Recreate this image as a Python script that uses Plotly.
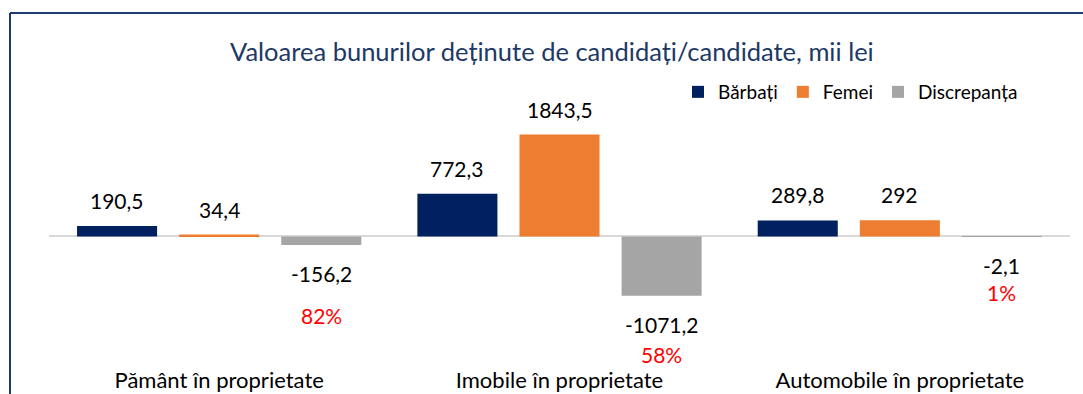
import plotly.graph_objects as go

# Asset categories and values (thousand lei)
categories = ["Pământ în proprietate", "Imobile în proprietate", "Automobile în proprietate"]
barbati = [190.5, 772.3, 289.8]
femei = [34.4, 1843.5, 292]
discrepanta = [-156.2, -1071.2, -2.1]

series_names = ["Bărbați", "Femei", "Discrepanța"]
series_colors = ["#002060", "#ED7D31", "#A5A5A5"]

W, H = 1083, 394
ML, MR, MT, MB = 49, 13, 100, 29
PW, PH = W - ML - MR, H - MT - MB
FONT = "Lato"


def fmt(v):
    s = f"{v:.1f}".replace(".", ",")
    return s[:-2] if s.endswith(",0") else s


def px_x(px):
    return (px - ML) / PW


def px_y(py):
    return (H - MB - py) / PH


fig = go.Figure()
all_series = [barbati, femei, discrepanta]
for name, color, vals in zip(series_names, series_colors, all_series):
    fig.add_trace(go.Bar(
        x=categories, y=vals, name=name,
        marker=dict(color=color, line=dict(width=0)),
        hoverinfo="skip",
    ))

# Value labels above / below each bar
n = len(all_series)
slot = (1 - 0.1) / n
annotations = []
for si, vals in enumerate(all_series):
    for ci, v in enumerate(vals):
        xoff = (si - (n - 1) / 2) * slot
        annotations.append(dict(
            x=ci + xoff, y=v, xref="x", yref="y",
            text=fmt(v), showarrow=False,
            yshift=25.5 if v >= 0 else -28.5,
            font=dict(family=FONT, size=21, color="#000000"),
        ))

# Share of the gap relative to the larger group, in red
pct_offsets = [42, 30, 27]
for ci, d in enumerate(discrepanta):
    share = abs(d) / max(barbati[ci], femei[ci]) * 100
    xoff = (2 - (n - 1) / 2) * slot
    annotations.append(dict(
        x=ci + xoff, y=d, xref="x", yref="y",
        text=f"{share:.0f}%", showarrow=False,
        yshift=-28.5 - pct_offsets[ci],
        font=dict(family=FONT, size=21, color="#FF0000"),
    ))

annotations.append(dict(
    x=px_x(552), y=px_y(51), xref="paper", yref="paper",
    text="Valoarea bunurilor deținute de candidați/candidate, mii lei",
    showarrow=False, xanchor="center", yanchor="middle",
    font=dict(family=FONT, size=25.5, color="#203864"),
))

# Frame around the chart
frame_color = "#1F3A73"
shapes = [
    dict(type="line", xref="paper", yref="paper",
         x0=px_x(10), x1=px_x(10), y0=px_y(13), y1=px_y(400),
         line=dict(color=frame_color, width=2)),
    dict(type="line", xref="paper", yref="paper",
         x0=px_x(10), x1=px_x(1090), y0=px_y(13), y1=px_y(13),
         line=dict(color=frame_color, width=2)),
]

fig.update_layout(
    width=W, height=H,
    margin=dict(l=ML, r=MR, t=MT, b=MB, pad=0, autoexpand=False),
    paper_bgcolor="#FFFFFF", plot_bgcolor="#FFFFFF",
    barmode="group", bargap=0.1, bargroupgap=0.216,
    font=dict(family=FONT, size=21, color="#000000"),
    showlegend=True,
    legend=dict(
        orientation="h", x=px_x(678), y=px_y(92), xanchor="left", yanchor="middle",
        font=dict(family=FONT, size=19, color="#000000"),
        bgcolor="rgba(0,0,0,0)", itemclick=False, itemdoubleclick=False,
        tracegroupgap=0, traceorder="normal",
    ),
    xaxis=dict(
        showgrid=False, showline=False, zeroline=False, ticks="",
        automargin=False,
        tickfont=dict(family=FONT, size=22, color="#000000"),
        fixedrange=True,
    ),
    yaxis=dict(
        range=[-2324, 2468], showgrid=False, showline=False,
        showticklabels=False, ticks="", automargin=False,
        zeroline=True, zerolinecolor="#D9D9D9", zerolinewidth=2,
        fixedrange=True,
    ),
    annotations=annotations,
    shapes=shapes,
)

fig.write_html("out.html", config={"displayModeBar": False})
